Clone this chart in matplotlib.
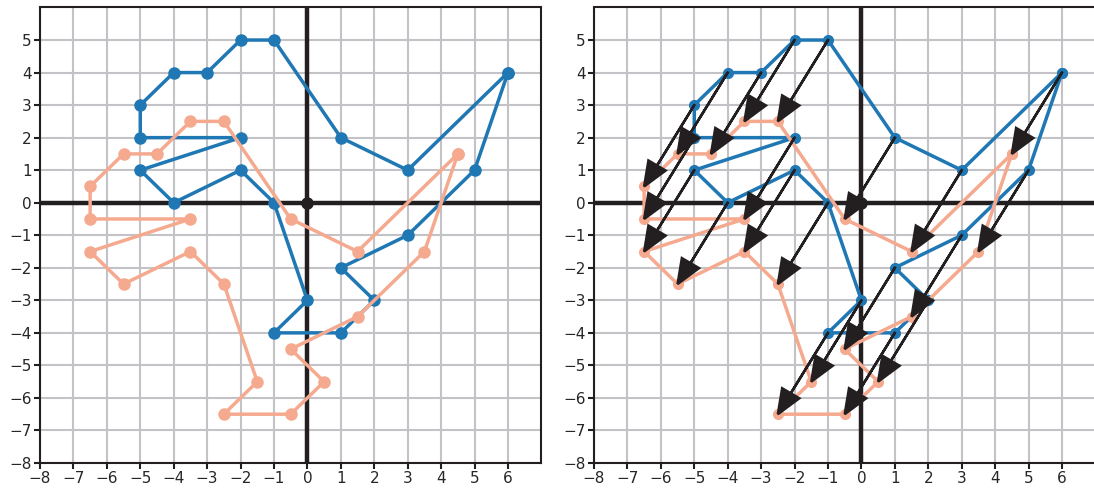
import numpy as np
import matplotlib
matplotlib.use("Agg")
import matplotlib.pyplot as plt

# original dino outline (blue)
dino_x = [6, 3, 1, -1, -2, -3, -4, -5, -5, -2, -5, -4, -2, -1, 0, -1, 1, 2, 1, 3, 5]
dino_y = [4, 1, 2, 5, 5, 4, 4, 3, 2, 2, 1, 0, 1, 0, -3, -4, -4, -3, -2, -1, 1]

# translated dino outline (salmon)
moved_x = [4.5, 1.5, -0.5, -2.5, -3.5, -4.5, -5.5, -6.5, -6.5, -3.5, -6.5,
           -5.5, -3.5, -2.5, -1.5, -2.5, -0.5, 0.5, -0.5, 1.5, 3.5]
moved_y = [1.5, -1.5, -0.5, 2.5, 2.5, 1.5, 1.5, 0.5, -0.5, -0.5, -1.5,
           -2.5, -1.5, -2.5, -5.5, -6.5, -6.5, -5.5, -4.5, -3.5, -1.5]

x_ticks = list(range(-8, 7))
y_ticks = list(range(-8, 6))

BLUE = "#1f77b4"
SALMON = "#f5aa8f"
DARK = "#231f20"


def closed(vals):
    return list(vals) + [vals[0]]


def setup_axes(ax):
    ax.set_xlim(-8, 7)
    ax.set_ylim(-8, 6)
    ax.set_xticks(x_ticks)
    ax.set_yticks(y_ticks)
    ax.grid(True, color="#c3c3c7", linewidth=1.5, zorder=0)
    ax.set_axisbelow(True)
    ax.axhline(0, color=DARK, linewidth=3.2, zorder=1)
    ax.axvline(0, color=DARK, linewidth=3.2, zorder=1)
    ax.plot([0], [0], "o", color=DARK, markersize=8, zorder=1)
    for s in ax.spines.values():
        s.set_color(DARK)
        s.set_linewidth(1.5)
    ax.tick_params(axis="both", labelsize=11, length=4, width=1.5,
                   color=DARK, labelcolor="#262626", pad=2)


def draw_polys(ax, ms=8):
    ax.plot(closed(dino_x), closed(dino_y), "-o", color=BLUE,
            linewidth=2.5, markersize=ms, zorder=3)
    ax.plot(closed(moved_x), closed(moved_y), "-o", color=SALMON,
            linewidth=2.5, markersize=ms, zorder=3)


fig = plt.figure(figsize=(10.94, 4.88), dpi=100)
W, H = 1094.0, 488.0
ax1 = fig.add_axes([40 / W, 25 / H, 501.4 / W, 455.5 / H])
ax2 = fig.add_axes([594 / W, 25 / H, 501.4 / W, 455.5 / H])

setup_axes(ax1)
draw_polys(ax1, ms=8)
setup_axes(ax2)
draw_polys(ax2, ms=7)

# arrows from each original point to its moved point
for x0, y0, x1, y1 in zip(dino_x, dino_y, moved_x, moved_y):
    ax2.arrow(x0, y0, x1 - x0, y1 - y0, head_width=0.6, head_length=0.75,
              length_includes_head=True, fc=DARK, ec=DARK, linewidth=1.8,
              zorder=4)

fig.savefig("out.png", dpi=100)
